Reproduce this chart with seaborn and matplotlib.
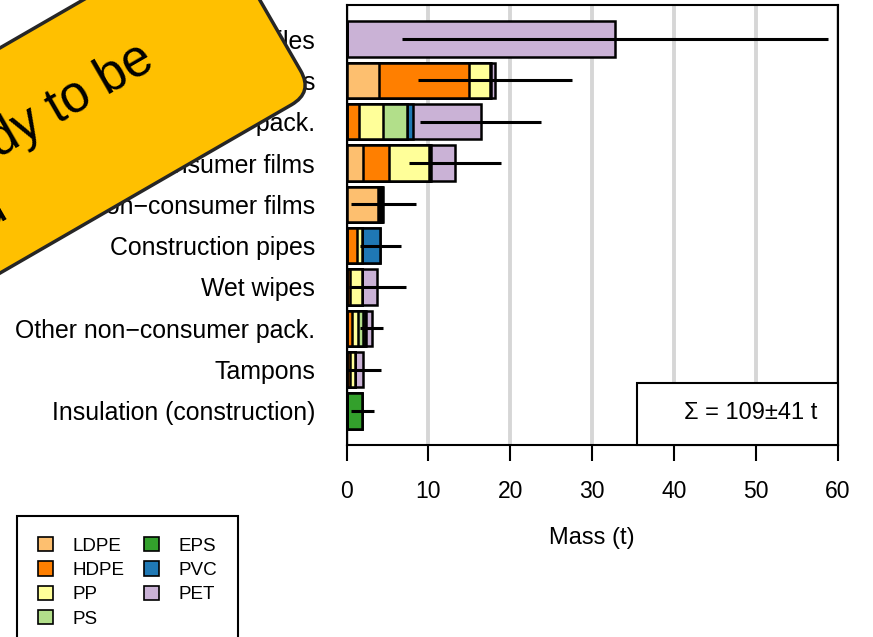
import pandas as pd
import matplotlib.pyplot as plt
import seaborn as sns
from matplotlib.patches import Patch, Rectangle, FancyBboxPatch
from matplotlib.transforms import Affine2D, IdentityTransform

categories = ["Textiles", "Bottles and containers", "Other consumer pack.", "Consumer films",
              "Non\u2212consumer films", "Construction pipes", "Wet wipes",
              "Other non\u2212consumer pack.", "Tampons", "Insulation (construction)"]
polymers = ["LDPE", "HDPE", "PP", "PS", "EPS", "PVC", "PET"]
colors = ["#FDBF6F", "#FF7F00", "#FFFF99", "#B2DF8A", "#33A02C", "#1F78B4", "#CAB2D6"]

# mass per polymer (t), one value per category
ldpe = [0, 4.0, 0, 1.97, 3.8, 0, 0, 0, 0, 0]
hdpe = [0, 10.9, 1.55, 3.25, 0.15, 1.25, 0.4, 0.65, 0.4, 0]
pp = [0, 2.6, 2.85, 4.9, 0.15, 0.7, 1.5, 0.8, 0.6, 0]
ps = [0, 0, 3.0, 0, 0.1, 0, 0, 0.55, 0, 0]
eps = [0, 0, 0, 0.1, 0.1, 0, 0, 0.3, 0, 1.9]
pvc = [0, 0.1, 0.75, 0.15, 0, 2.2, 0, 0.1, 0, 0]
pet = [32.8, 0.5, 8.25, 2.9, 0.2, 0, 1.85, 0.7, 1.0, 0]
errors = [26.0, 9.4, 7.4, 5.6, 4.0, 2.5, 3.5, 1.4, 2.2, 1.4]
total_label = "\u03a3 = 109\u00b141 t"

df = pd.DataFrame({"Category": categories, "LDPE": ldpe, "HDPE": hdpe, "PP": pp,
                   "PS": ps, "EPS": eps, "PVC": pvc, "PET": pet})
cum = df[polymers].cumsum(axis=1)
cum["Category"] = categories

sns.set_style("white")
plt.rcParams['font.family'] = ['Liberation Sans', 'DejaVu Sans']
for key in ["text.color", "axes.labelcolor", "xtick.color", "ytick.color"]:
    plt.rcParams[key] = "black"

fig = plt.figure(figsize=(8.73, 6.37), dpi=100)
ax = fig.add_axes([346.5 / 873, 192 / 637, 491.5 / 873, 440 / 637])

# stacked bars: draw cumulative totals from the last polymer backwards
for poly, col in reversed(list(zip(polymers, colors))):
    sns.barplot(data=cum, x=poly, y="Category", orient="h", color=col, saturation=1,
                edgecolor="black", linewidth=1.8, width=0.85, ax=ax, zorder=2)

totals = cum["PET"].values
ax.errorbar(totals, range(len(categories)), xerr=errors, fmt="none", ecolor="black",
            elinewidth=2.2, capsize=0, zorder=5)

ax.set_xlim(0, 60)
ax.set_ylim(9.823, -0.823)
ax.set_xticks(range(0, 61, 10))
ax.grid(axis="x", color="#d6d6d6", linewidth=2.8)
ax.set_axisbelow(True)
ax.set_xlabel("Mass (t)", fontsize=17, labelpad=17)
ax.set_ylabel("")
ax.tick_params(axis="x", length=11.5, width=1.5, pad=14, labelsize=16.5, direction="out",
               bottom=True)
ax.tick_params(axis="y", length=0, pad=22.7, labelsize=17.9)
for s in ax.spines.values():
    s.set_color("black")
    s.set_linewidth(1.5)

# total box
ax.add_patch(Rectangle((0.591, 0), 0.409, 0.141, transform=ax.transAxes, facecolor="white",
                       edgecolor="black", linewidth=1.5, zorder=6, clip_on=False))
ax.text(0.958, 0.073, total_label, transform=ax.transAxes, ha="right", va="center",
        fontsize=17, zorder=7)

handles = [Patch(facecolor=c, edgecolor="black", linewidth=1.2, label=p)
           for p, c in zip(polymers, colors)]
leg = fig.legend(handles=handles, loc="upper left", bbox_to_anchor=(17 / 873, 1 - 516 / 637),
                 borderaxespad=0, ncol=2, frameon=True, fancybox=False, edgecolor="black",
                 fontsize=13.6, handlelength=0.8, handleheight=0.8, handletextpad=1.05,
                 columnspacing=1.0, borderpad=1.1, labelspacing=0.35)
leg.get_frame().set_linewidth(1.5)
leg.get_frame().set_alpha(1)

# rotated sticker
rot = Affine2D().rotate_deg(30).translate(313.1, 544.7)
sticker = FancyBboxPatch((-700, 0), 700, 195, boxstyle="round,pad=0,rounding_size=25",
                         facecolor="#FFC000", edgecolor="#262626", linewidth=2.5,
                         transform=rot, zorder=10)
fig.add_artist(sticker)
fig.text(156.6, 569.8, "Not ready to be", transform=IdentityTransform(), rotation=30,
         rotation_mode="anchor", ha="right", va="baseline", fontsize=37, zorder=11)
fig.text(10, 421.7, "used", transform=IdentityTransform(), rotation=30,
         rotation_mode="anchor", ha="right", va="baseline", fontsize=37, zorder=11)

fig.savefig("out.png", dpi=100)
